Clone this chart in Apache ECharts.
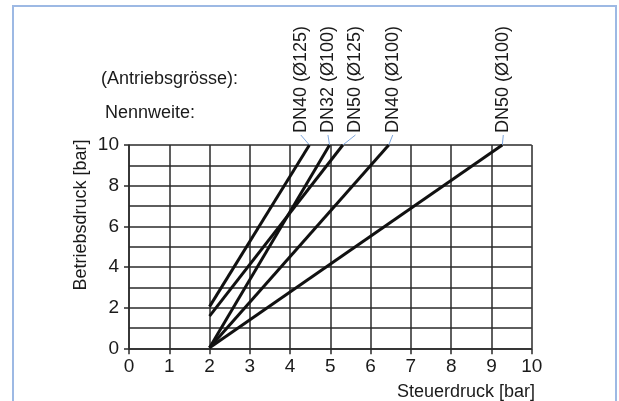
<!DOCTYPE html>
<html>
<head>
<meta charset="utf-8">
<script src="https://cdn.jsdelivr.net/npm/echarts@6/dist/echarts.min.js"></script>
<style>
html,body{margin:0;padding:0;background:#fff;}
#c{width:619px;height:401px;}
</style>
</head>
<body>
<div id="c"></div>
<script>
// ---- data ----
const seriesNames = ['DN40 (Ø125)', 'DN32 (Ø100)', 'DN50 (Ø125)', 'DN40 (Ø100)', 'DN50 (Ø100)'];
const dn40_125 = [[2, 2.05], [4.48, 10]];
const dn32_100 = [[2, 0.03], [4.98, 10]];
const dn50_125 = [[2, 1.58], [5.31, 10]];
const dn40_100 = [[2, 0.03], [6.45, 10]];
const dn50_100 = [[2, 0.03], [9.27, 10]];
const xTicks = [0, 1, 2, 3, 4, 5, 6, 7, 8, 9, 10];
const yTicks = [0, 2, 4, 6, 8, 10];
const xName = 'Steuerdruck [bar]';
const yName = 'Betriebsdruck [bar]';
const header1 = '(Antriebsgrösse):';
const header2 = 'Nennweite:';
// label offset of each rotated name relative to its line end (px)
const labelDx = [-8.6, -1.6, 12.6, 4, 1];

const allData = [dn40_125, dn32_100, dn50_125, dn40_100, dn50_100];
const FONT = '"Liberation Sans", Arial, Helvetica, sans-serif';
const FS = 18;
const TFS = 19;
const TXT = '#1a1a1a';
const GRID = '#2a2a2a';

const chart = echarts.init(document.getElementById('c'), null, {renderer: 'canvas'});

const option = {
  animation: false,
  backgroundColor: '#fff',
  textStyle: {fontFamily: FONT},
  grid: {left: 129, top: 145, right: 87.3, bottom: 52.7, containLabel: false},
  xAxis: {
    type: 'value', min: 0, max: 10, interval: 1,
    axisLine: {show: true, lineStyle: {color: GRID, width: 1.5}},
    axisTick: {show: true, length: 6, lineStyle: {color: GRID, width: 1.5}},
    axisLabel: {show: true, margin: 9, color: TXT, fontSize: TFS, fontFamily: FONT,
      formatter: v => xTicks.indexOf(v) >= 0 ? String(v) : ''},
    splitLine: {show: true, lineStyle: {color: GRID, width: 1.5}}
  },
  yAxis: {
    type: 'value', min: 0, max: 10, interval: 2,
    axisLine: {show: true, lineStyle: {color: GRID, width: 1.5}},
    axisTick: {show: true, length: 5, lineStyle: {color: GRID, width: 1.5}},
    minorTick: {show: false, splitNumber: 2},
    minorSplitLine: {show: true, lineStyle: {color: GRID, width: 1.5}},
    axisLabel: {show: true, margin: 10, color: TXT, fontSize: TFS, fontFamily: FONT,
      formatter: v => yTicks.indexOf(v) >= 0 ? String(v) : ''},
    splitLine: {show: true, lineStyle: {color: GRID, width: 1.5}}
  },
  series: allData.map((d, i) => ({
    name: seriesNames[i],
    type: 'line',
    data: d,
    symbol: 'none',
    silent: true,
    z: 5,
    lineStyle: {color: '#111', width: 3}
  }))
};
chart.setOption(option);

// annotations
const g = [];
g.push({type: 'polyline', silent: true, z: 100,
  shape: {points: [[13, 402], [13, 6], [616, 6], [616, 402]]},
  style: {stroke: '#9db9e4', lineWidth: 2, fill: null}});
g.push({type: 'text', silent: true, x: 101, y: 79,
  style: {text: header1, font: FS + 'px ' + FONT, fill: TXT, align: 'left', verticalAlign: 'middle'}});
g.push({type: 'text', silent: true, x: 105, y: 113,
  style: {text: header2, font: FS + 'px ' + FONT, fill: TXT, align: 'left', verticalAlign: 'middle'}});
g.push({type: 'text', silent: true, x: 81, y: 215, rotation: Math.PI / 2,
  style: {text: yName, font: FS + 'px ' + FONT, fill: TXT, align: 'center', verticalAlign: 'middle'}});
g.push({type: 'text', silent: true, x: 535, y: 392,
  style: {text: xName, font: FS + 'px ' + FONT, fill: TXT, align: 'right', verticalAlign: 'middle'}});

allData.forEach((d, i) => {
  const end = d[d.length - 1];
  const p = chart.convertToPixel({gridIndex: 0}, end);
  const tx = p[0] + labelDx[i];
  g.push({type: 'text', silent: true, x: tx, y: 133, rotation: Math.PI / 2,
    style: {text: seriesNames[i], font: FS + 'px ' + FONT, fill: TXT, align: 'left', verticalAlign: 'middle'}});
  g.push({type: 'line', silent: true,
    shape: {x1: tx, y1: 135, x2: p[0], y2: p[1]},
    style: {stroke: '#7ea6dc', lineWidth: 1}});
});
chart.setOption({graphic: g});
</script>
</body>
</html>
